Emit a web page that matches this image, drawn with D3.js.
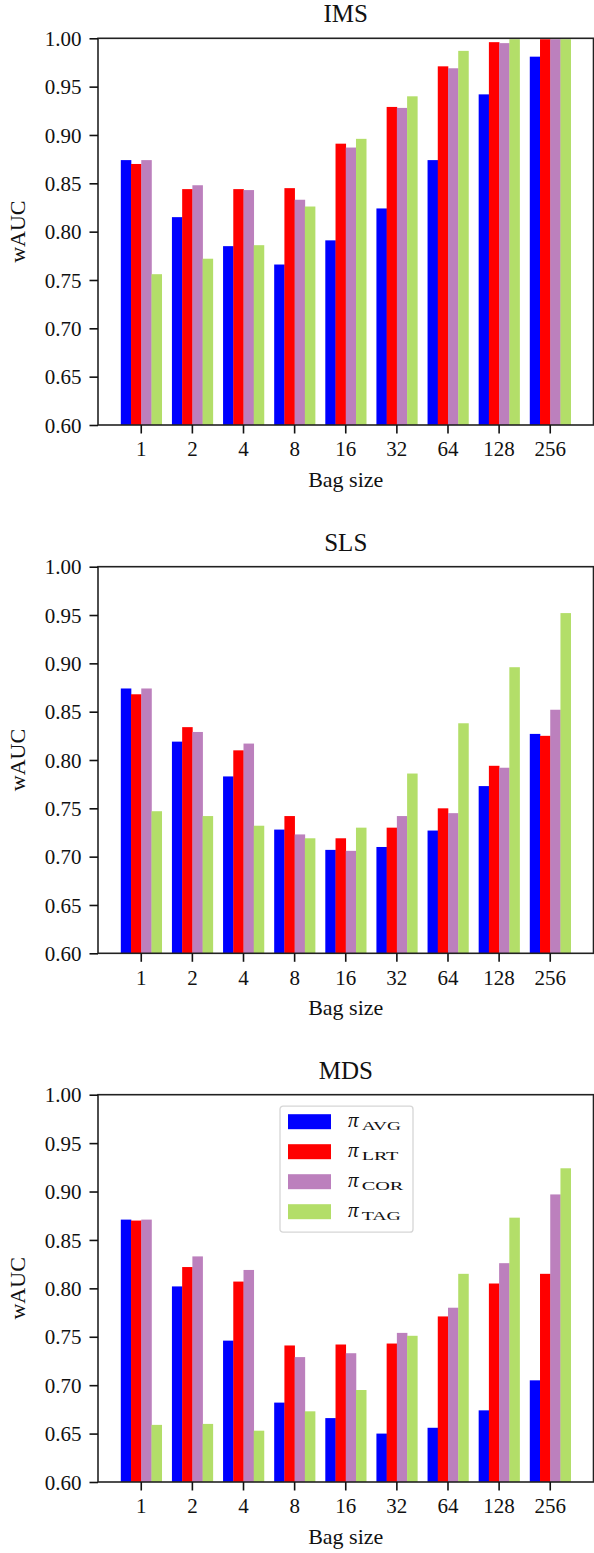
<!DOCTYPE html>
<html><head><meta charset="utf-8">
<script src="https://cdn.jsdelivr.net/npm/d3@7"></script>
<style>body{margin:0;background:#fff}svg{display:block}text{font-family:"Liberation Serif","Times New Roman",serif;fill:#111}</style>
</head><body><div id="c"></div>
<script>
const categories = ["1","2","4","8","16","32","64","128","256"];
const seriesNames = ["AVG","LRT","COR","TAG"];
const seriesColors = ["#0000ff","#ff0000","#bc80bd","#b3de69"];
const yTicks = [0.60,0.65,0.70,0.75,0.80,0.85,0.90,0.95,1.00];

const imsAVG = [0.874,0.815,0.785,0.766,0.791,0.824,0.874,0.942,0.981];
const imsLRT = [0.870,0.844,0.844,0.845,0.891,0.929,0.971,0.996,0.999];
const imsCOR = [0.874,0.848,0.843,0.833,0.887,0.928,0.969,0.995,0.999];
const imsTAG = [0.756,0.772,0.786,0.826,0.896,0.940,0.987,0.999,0.999];

const slsAVG = [0.874,0.819,0.783,0.728,0.707,0.710,0.727,0.773,0.827];
const slsLRT = [0.868,0.834,0.810,0.742,0.719,0.730,0.750,0.794,0.825];
const slsCOR = [0.874,0.829,0.817,0.723,0.706,0.742,0.745,0.792,0.852];
const slsTAG = [0.747,0.742,0.732,0.719,0.730,0.786,0.838,0.896,0.952];

const mdsAVG = [0.871,0.802,0.746,0.682,0.666,0.650,0.656,0.674,0.705];
const mdsLRT = [0.870,0.822,0.807,0.741,0.742,0.743,0.771,0.805,0.815];
const mdsCOR = [0.871,0.833,0.819,0.729,0.733,0.754,0.780,0.826,0.897];
const mdsTAG = [0.659,0.660,0.653,0.673,0.695,0.751,0.815,0.873,0.924];

const panels = [
  {title:"IMS", series:[imsAVG,imsLRT,imsCOR,imsTAG], top:38.3, bottom:425, legend:false},
  {title:"SLS", series:[slsAVG,slsLRT,slsCOR,slsTAG], top:566.7, bottom:953.3, legend:false},
  {title:"MDS", series:[mdsAVG,mdsLRT,mdsCOR,mdsTAG], top:1094.7, bottom:1482, legend:true}
];
const legendWidths = [39.3,36.7,41.7,39.3];

const W = 594, H = 1553, left = 98, right = 593.5;
const FS = 21;
const svg = d3.select("#c").append("svg").attr("width",W).attr("height",H);

const x = d3.scaleBand().domain(categories).range([left + 43.3 - 25.6, right - 43.3 + 25.6]).paddingInner(0).paddingOuter(0);
const sub = d3.scaleBand().domain(seriesNames).range([0, x.bandwidth()*0.8]);

panels.forEach(p => {
  const g = svg.append("g");
  const y = d3.scaleLinear().domain([0.6,1.0]).range([p.bottom,p.top]);
  const clip = "clip"+p.title;
  svg.append("clipPath").attr("id",clip).append("rect")
    .attr("x",left).attr("y",p.top).attr("width",right-left).attr("height",p.bottom-p.top);
  const bars = g.append("g").attr("clip-path",`url(#${clip})`);
  p.series.forEach((vals,si) => {
    bars.selectAll(null).data(vals).enter().append("rect")
      .attr("x",(d,i)=> x(categories[i]) + x.bandwidth()*0.1 + sub(seriesNames[si]))
      .attr("width",sub.bandwidth()+0.3)
      .attr("y",d=>y(d)).attr("height",d=>p.bottom-y(d))
      .attr("fill",seriesColors[si]);
  });
  g.append("rect").attr("x",left).attr("y",p.top).attr("width",right-left).attr("height",p.bottom-p.top)
    .attr("fill","none").attr("stroke","#222").attr("stroke-width",1.6);
  const ya = g.append("g").attr("transform",`translate(${left},0)`)
    .call(d3.axisLeft(y).tickValues(yTicks).tickFormat(d3.format(".2f")).tickSize(8.5).tickPadding(8));
  ya.select(".domain").remove();
  ya.selectAll("line").attr("stroke","#111").attr("stroke-width",1.6);
  ya.selectAll("text").attr("font-size",FS).attr("fill","#111").attr("dy","0.34em");
  const xa = g.append("g").attr("transform",`translate(0,${p.bottom})`)
    .call(d3.axisBottom(x).tickSize(8.5).tickPadding(8));
  xa.select(".domain").remove();
  xa.selectAll("line").attr("stroke","#111").attr("stroke-width",1.6);
  xa.selectAll("text").attr("font-size",FS).attr("fill","#111");
  g.append("text").attr("x",(left+right)/2).attr("y",p.top-16).attr("text-anchor","middle")
    .attr("font-size",25).text(p.title);
  g.append("text").attr("x",(left+right)/2).attr("y",p.bottom+62).attr("text-anchor","middle")
    .attr("font-size",22).text("Bag size");
  g.append("text").attr("transform",`translate(25,${(p.top+p.bottom)/2}) rotate(-90)`)
    .attr("text-anchor","middle").attr("font-size",22).text("wAUC");

  if (p.legend) {
    const lg = svg.append("g").attr("transform",`translate(280,${p.top+11.5})`);
    lg.append("rect").attr("x",0).attr("y",0).attr("width",133).attr("height",126).attr("rx",3)
      .attr("fill","#fff").attr("fill-opacity",0.8).attr("stroke","#d6d6d6").attr("stroke-width",1.3);
    seriesNames.forEach((n,i) => {
      lg.append("rect").attr("x",8).attr("y",8+30*i).attr("width",43).attr("height",15).attr("fill",seriesColors[i]);
      lg.append("text").attr("x",68).attr("y",20.7+30*i).attr("font-size",FS).attr("font-style","italic").text("π");
      lg.append("text").attr("x",81.7).attr("y",24+30*i).attr("font-size",12.5)
        .attr("textLength",legendWidths[i]).attr("lengthAdjust","spacingAndGlyphs").text(n);
    });
  }
});
</script></body></html>
